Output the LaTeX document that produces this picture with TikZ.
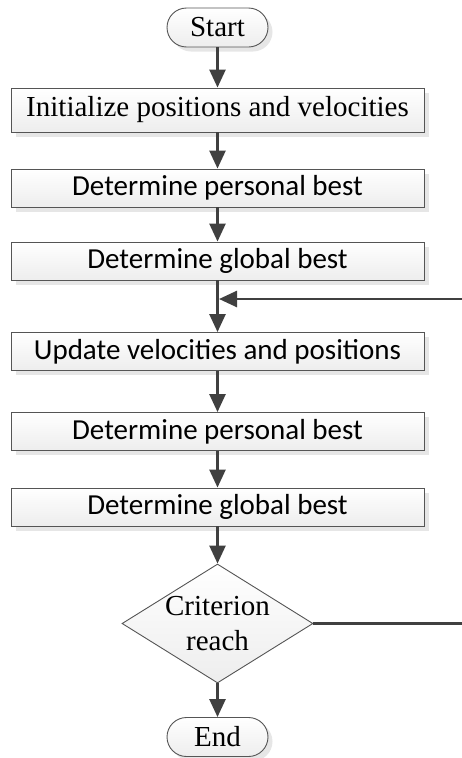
\documentclass[tikz,border=0pt]{standalone}
\usepackage{fontspec}
\setmainfont{Liberation Serif}
\newfontfamily\calibri{Carlito}
\usetikzlibrary{shapes,shapes.geometric,shadows,arrows.meta}
\definecolor{linegray}{RGB}{64,64,64}
\definecolor{edgegray}{RGB}{85,85,85}
\definecolor{shadegray}{RGB}{230,230,230}
\tikzstyle{flow}=[draw=linegray, line width=2.6pt, -{Triangle[length=18pt,width=16pt]}]
\tikzstyle{boxbase}=[draw=edgegray, line width=0.9pt, top color=white, bottom color=black!7]
\tikzstyle{shade}=[drop shadow={shadow xshift=4.5pt, shadow yshift=-4.5pt, fill=shadegray, opacity=1}]
\tikzstyle{procbox}=[boxbase, shade, rectangle, minimum width=413pt, minimum height=38pt, inner sep=0pt, font=\calibri\fontsize{29}{35}\selectfont]
\tikzstyle{termbox}=[boxbase, shade, rectangle, rounded corners=19.5pt, minimum width=101pt, minimum height=39pt, inner sep=0pt, font=\rmfamily\fontsize{29}{35}\selectfont]
\tikzstyle{decbox}=[boxbase, diamond, minimum width=191pt, minimum height=119pt, inner sep=0pt]

\begin{document}
\begin{tikzpicture}[x=1pt, y=-1pt]
\useasboundingbox (0,0) rectangle (462,758);
\clip (0,0) rectangle (462,758);
% terminals
\node[termbox] (start) at (217.5,27.5) {Start};
\node[termbox] (finish) at (217.5,737) {End};
% steps
\node[procbox, minimum height=44pt, font=\rmfamily\fontsize{29}{35}\selectfont] (init) at (217.5,110) {Initialize positions and velocities};
\foreach \name/\y/\txt in {pbest1/188/Determine personal best, gbest1/261/Determine global best,
  update/351.5/Update velocities and positions, pbest2/431.5/Determine personal best, gbest2/507/Determine global best} {
 \node[procbox] (\name) at (217.5,\y) {\txt};
}
\node[decbox, label={[name=crittext, align=center, font=\rmfamily\fontsize{29}{35}\selectfont]center:Criterion\\reach}] (crit) at (217.5,623.5) {};
\coordinate (junc) at (219,299);
% connectors
\foreach \a/\b in {start/init, init/pbest1, pbest1/gbest1, gbest1/update, update/pbest2, pbest2/gbest2, gbest2/crit, crit/finish}
 \draw[flow] (\a) -- (\b);
\draw[flow] (crit.east) -- ++(170,0) |- (junc);
\end{tikzpicture}
\end{document}
